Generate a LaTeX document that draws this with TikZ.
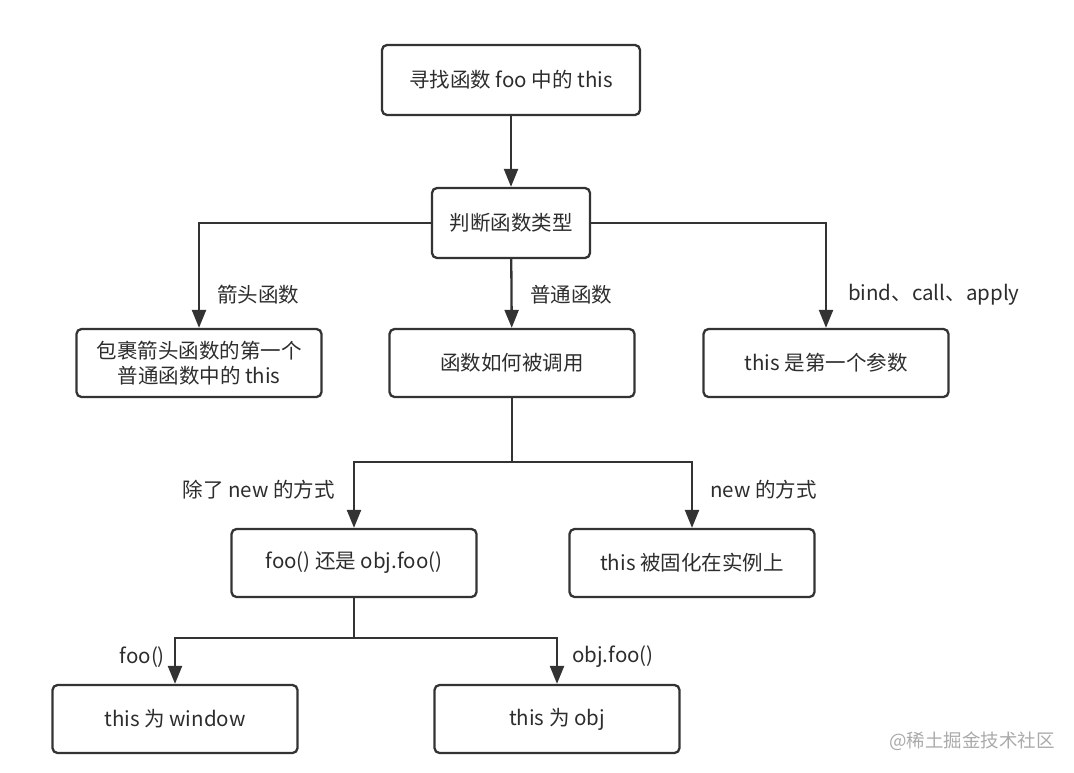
\documentclass[tikz,border=0pt]{standalone}
\usepackage{fontspec}
\newfontfamily\cjk{Noto Sans CJK SC}
\usetikzlibrary{arrows.meta}
\definecolor{line color}{RGB}{51,51,51}
\definecolor{text color}{RGB}{45,45,45}
\definecolor{mark color}{RGB}{170,170,170}

\begin{document}
\begin{tikzpicture}[
	x=1pt, y=-1pt,
	font=\cjk\fontsize{20.5}{25}\selectfont,
	line width=2.3pt,
	box/.style={draw=line color, text=text color, rounded corners=5pt,
		minimum width=245pt, minimum height=68pt, align=center, inner sep=0pt},
	flow/.style={draw=line color, -{Triangle[width=14pt,length=18pt]}},
	tag/.style={text=text color, inner sep=0pt}]

\useasboundingbox (0,0) rectangle (1074,772);

% Boxes
\node (find) at (511,80) [box, minimum width=258pt, minimum height=70pt] {寻找函数 foo 中的 this};
\node (judge) at (511,223) [box, minimum width=158pt, minimum height=70pt] {判断函数类型};
\node (wrap) at (199,363) [box] {包裹箭头函数的第一个\\普通函数中的 this};
\node (call) at (512,363) [box] {函数如何被调用};
\node (first) at (826,363) [box] {this 是第一个参数};
\node (foocall) at (354,563) [box] {foo() 还是 obj.foo()};
\node (fixed) at (692,563) [box] {this 被固化在实例上};
\node (window) at (175,719) [box] {this 为 window};
\node (obj) at (557,719) [box] {this 为 obj};

% Branch points
\coordinate (split1) at (512,462);
\coordinate (split2) at (354,638);

% Connectors
\draw [flow] (find) -- (judge);
\draw [flow] (judge.west) -| (wrap.north);
\draw [flow] (judge) -- (call);
\draw [flow] (judge.east) -| (first.north);
\draw [line color] (call.south) -- (split1);
\draw [flow] (split1) -| (foocall.north);
\draw [flow] (split1) -| (fixed.north);
\draw [line color] (foocall.south) -- (split2);
\draw [flow] (split2) -| (window.north);
\draw [flow] (split2) -| (obj.north);

% Labels
\node (arrowtag) at (216,295) [tag, anchor=west] {箭头函数};
\node (plaintag) at (529,295) [tag, anchor=west] {普通函数};
\node (bindtag) at (847,295) [tag, anchor=west] {bind、call、apply};
\node (othertag) at (336,490) [tag, anchor=east] {除了 new 的方式};
\node (newtag) at (709,490) [tag, anchor=west] {new 的方式};
\node (footag) at (166,657) [tag, anchor=east] {foo()};
\node (objtag) at (571,657) [tag, anchor=west] {obj.foo()};

% Watermark
\node (mark) at (1056,741) [anchor=east, inner sep=0pt, text=mark color,
	font=\cjk\fontsize{18.5}{20}\selectfont] {@稀土掘金技术社区};

\end{tikzpicture}
\end{document}
